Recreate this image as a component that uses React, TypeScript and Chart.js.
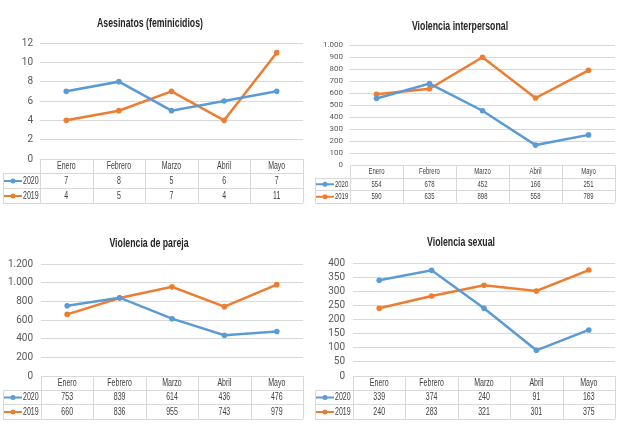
import React, { useEffect, useRef } from "react";
import { Chart, registerables } from "chart.js";

Chart.register(...registerables);

// ---------- data ----------
const months = ["Enero", "Febrero", "Marzo", "Abril", "Mayo"];
const yearLabels = ["2020", "2019"];

const asesinatosTitle = "Asesinatos (feminicidios)";
const asesinatos2020 = [7, 8, 5, 6, 7];
const asesinatos2019 = [4, 5, 7, 4, 11];

const interpersonalTitle = "Violencia interpersonal";
const interpersonal2020 = [554, 678, 452, 166, 251];
const interpersonal2019 = [590, 635, 898, 558, 789];

const parejaTitle = "Violencia de pareja";
const pareja2020 = [753, 839, 614, 436, 476];
const pareja2019 = [660, 836, 955, 743, 979];

const sexualTitle = "Violencia sexual";
const sexual2020 = [339, 374, 240, 91, 163];
const sexual2019 = [240, 283, 321, 301, 375];

const colors = ["#5B9BD5", "#ED7D31"];

const FONT = "'Liberation Sans', Arial, sans-serif";
const SQUEEZE = 0.7;

const fmt = (v: number) => Number(v).toLocaleString("de-DE");

type Panel = {
  title: string;
  s2020: number[];
  s2019: number[];
  yMax: number;
  yStep: number;
  left: number;
  top: number;
  height: number;
  padTop: number;
  padBottom: number;
  axisWidth: number;
  tickPad: number;
  titleX: number;
  titleY: number;
  rows: number[];
  tickSize: number;
  tableSize: number;
};

const panels: Panel[] = [
  {
    title: asesinatosTitle, s2020: asesinatos2020, s2019: asesinatos2019,
    yMax: 12, yStep: 2, left: 0, top: 0, height: 215,
    padTop: 43, padBottom: 56, axisWidth: 40, tickPad: 7,
    titleX: 150, titleY: 24, rows: [14, 15, 15], tickSize: 10, tableSize: 10,
  },
  {
    title: interpersonalTitle, s2020: interpersonal2020, s2019: interpersonal2019,
    yMax: 1000, yStep: 100, left: 312, top: 0, height: 215,
    padTop: 45, padBottom: 50, axisWidth: 38, tickPad: 7,
    titleX: 148, titleY: 27, rows: [12.5, 12.5, 12.5], tickSize: 8, tableSize: 8.5,
  },
  {
    title: parejaTitle, s2020: pareja2020, s2019: pareja2019,
    yMax: 1200, yStep: 200, left: 0, top: 215, height: 216,
    padTop: 49, padBottom: 55, axisWidth: 41, tickPad: 8,
    titleX: 149, titleY: 29, rows: [14, 14, 15], tickSize: 10, tableSize: 10,
  },
  {
    title: sexualTitle, s2020: sexual2020, s2019: sexual2019,
    yMax: 400, yStep: 50, left: 312, top: 215, height: 216,
    padTop: 48, padBottom: 55, axisWidth: 41, tickPad: 8,
    titleX: 149, titleY: 28, rows: [14, 14, 15], tickSize: 10, tableSize: 10,
  },
];

function squeezedText(ctx: CanvasRenderingContext2D, text: string, x: number, y: number, align: CanvasTextAlign) {
  ctx.save();
  ctx.translate(x, y);
  ctx.scale(SQUEEZE, 1);
  ctx.textAlign = align;
  ctx.textBaseline = "middle";
  ctx.fillText(text, 0, 0);
  ctx.restore();
}

const decorPlugin = {
  id: "decor",
  afterDraw(chart: any, _args: any, opts: any) {
    const { ctx, chartArea, scales } = chart;
    const xs = scales.x;
    const n = months.length;
    const colW = (chartArea.right - chartArea.left) / n;
    const [hH, r1, r2] = opts.rows;
    const top = chartArea.bottom;
    const yH = top + hH;
    const y1 = yH + r1;
    const y2 = y1 + r2;
    const legendLeft = 3;

    ctx.save();
    // title
    ctx.fillStyle = "#262626";
    ctx.font = `bold 12.5px ${FONT}`;
    squeezedText(ctx, opts.title, opts.titleX, opts.titleY, "center");

    // table grid
    ctx.strokeStyle = "#d9d9d9";
    ctx.lineWidth = 1;
    ctx.beginPath();
    const hl = (xa: number, xb: number, y: number) => {
      ctx.moveTo(xa, Math.round(y) + 0.5);
      ctx.lineTo(xb, Math.round(y) + 0.5);
    };
    const vl = (x: number, ya: number, yb: number) => {
      ctx.moveTo(Math.round(x) + 0.5, ya);
      ctx.lineTo(Math.round(x) + 0.5, yb);
    };
    hl(legendLeft, chartArea.right, yH);
    hl(legendLeft, chartArea.right, y1);
    hl(legendLeft, chartArea.right, y2);
    vl(legendLeft, yH, y2);
    for (let i = 0; i <= n; i++) {
      const cx = i < n ? xs.getPixelForValue(i) - colW / 2 : xs.getPixelForValue(n - 1) + colW / 2;
      vl(cx, top, y2);
    }
    ctx.stroke();

    // header
    ctx.fillStyle = "#404040";
    ctx.font = `${opts.tableSize}px ${FONT}`;
    months.forEach((m, i) => {
      squeezedText(ctx, m, xs.getPixelForValue(i), top + hH / 2 + 0.5, "center");
    });
    // rows
    const rowY = [yH + r1 / 2 + 0.5, y1 + r2 / 2 + 0.5];
    chart.data.datasets.forEach((ds: any, r: number) => {
      const y = rowY[r];
      ctx.fillStyle = "#404040";
      ds.data.forEach((v: number, i: number) => {
        squeezedText(ctx, fmt(v), xs.getPixelForValue(i), y, "center");
      });
      // legend key
      ctx.strokeStyle = ds.borderColor;
      ctx.lineWidth = 2;
      ctx.beginPath();
      ctx.moveTo(legendLeft + 1, y);
      ctx.lineTo(legendLeft + 19, y);
      ctx.stroke();
      ctx.fillStyle = ds.borderColor;
      ctx.beginPath();
      ctx.arc(legendLeft + 10, y, 2.5, 0, Math.PI * 2);
      ctx.fill();
      ctx.fillStyle = "#404040";
      squeezedText(ctx, ds.label, legendLeft + 20, y, "left");
    });
    ctx.restore();
  },
};

function PanelChart({ p }: { p: Panel }) {
  const ref = useRef<HTMLCanvasElement | null>(null);
  useEffect(() => {
    if (!ref.current) return;
    const chart = new Chart(ref.current, {
      type: "line",
      data: {
        labels: months,
        datasets: [
          {
            label: yearLabels[0],
            data: p.s2020,
            borderColor: colors[0],
            backgroundColor: colors[0],
            pointBackgroundColor: colors[0],
            borderWidth: 2.5,
            pointRadius: 2.8,
            pointBorderWidth: 0,
            tension: 0,
          },
          {
            label: yearLabels[1],
            data: p.s2019,
            borderColor: colors[1],
            backgroundColor: colors[1],
            pointBackgroundColor: colors[1],
            borderWidth: 2.5,
            pointRadius: 2.8,
            pointBorderWidth: 0,
            tension: 0,
          },
        ],
      },
      options: {
        animation: false,
        responsive: false,
        devicePixelRatio: 1,
        layout: { padding: { top: p.padTop, bottom: p.padBottom, left: 0, right: 9 } },
        plugins: {
          legend: { display: false },
          tooltip: { enabled: false },
          title: { display: false },
          decor: { title: p.title, titleX: p.titleX, titleY: p.titleY, rows: p.rows, tableSize: p.tableSize },
        } as any,
        scales: {
          x: {
            type: "category",
            offset: true,
            display: false,
          },
          y: {
            min: 0,
            max: p.yMax,
            afterFit: (s: any) => {
              s.width = p.axisWidth;
            },
            border: { display: false },
            grid: { color: "#d9d9d9", drawTicks: false },
            ticks: {
              stepSize: p.yStep,
              autoSkip: false,
              maxTicksLimit: 30,
              padding: p.tickPad,
              color: "#595959",
              font: { family: "'Liberation Sans Narrow', 'Roboto', sans-serif", size: p.tickSize },
              callback: (v: any) => fmt(Number(v)),
            },
          },
        },
      },
      plugins: [decorPlugin],
    });
    return () => chart.destroy();
  }, [p]);
  return (
    <canvas
      ref={ref}
      width={312}
      height={p.height}
      style={{ position: "absolute", left: p.left, top: p.top, width: 312, height: p.height }}
    />
  );
}

export default function App() {
  return (
    <div style={{ position: "absolute", left: 0, top: 0, width: 624, height: 431, background: "#fff" }}>
      {panels.map((p, i) => (
        <PanelChart key={i} p={p} />
      ))}
    </div>
  );
}
